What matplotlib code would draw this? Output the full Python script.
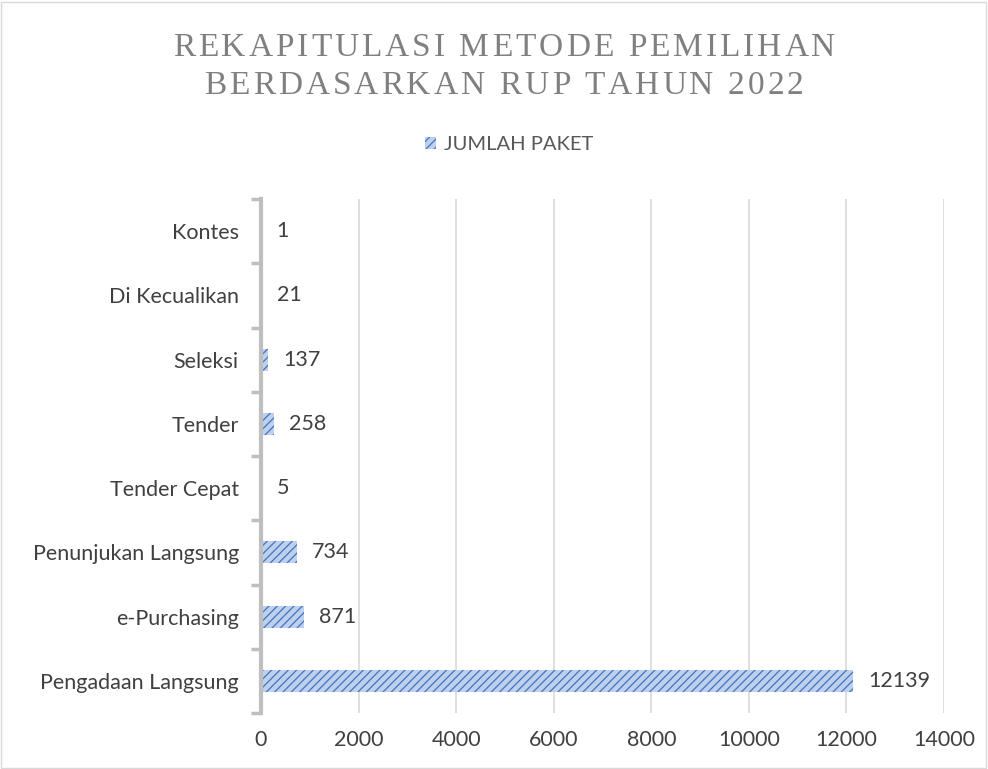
import matplotlib
matplotlib.use("Agg")
import matplotlib.pyplot as plt
from matplotlib.patches import Rectangle

categories = ["Pengadaan Langsung", "e-Purchasing", "Penunjukan Langsung", "Tender Cepat",
              "Tender", "Seleksi", "Di Kecualikan", "Kontes"]
values = [12139, 871, 734, 5, 258, 137, 21, 1]
xticks = [0, 2000, 4000, 6000, 8000, 10000, 12000, 14000]
series_name = "JUMLAH PAKET"
title_lines = ["REKAPITULASI METODE PEMILIHAN", "BERDASARKAN RUP TAHUN 2022"]

plt.rcParams['hatch.linewidth'] = 0.9
fig = plt.figure(figsize=(9.88, 7.69), dpi=100)
ax = fig.add_axes([0.2642, 0.0728, 0.6913, 0.6684])

y = list(range(len(categories)))
bars = ax.barh(y, values, height=0.34, color="#BDD0EC", edgecolor="#4472C4",
               linewidth=0, hatch="////", label=series_name)

ax.set_xlim(0, 14000)
ax.set_ylim(-0.5, len(categories) - 0.5)
ax.set_xticks(xticks)
ax.set_xticklabels([str(t) for t in xticks])
ax.set_yticks(y)
ax.set_yticklabels(categories)
ax.set_yticks([i - 0.5 for i in range(len(categories) + 1)], minor=True)

font = "Lato"
for lab in ax.get_xticklabels() + ax.get_yticklabels():
    lab.set_fontfamily(font)
    lab.set_fontsize(15.5)
    lab.set_color("#404040")

ax.tick_params(axis="x", length=0, pad=12)
ax.tick_params(axis="y", which="major", length=0, pad=16)
ax.tick_params(axis="y", which="minor", length=7, width=2.5, color="#BFBFBF", direction="out")

ax.xaxis.grid(True, color="#D9D9D9", linewidth=1.2)
ax.set_axisbelow(True)
for s in ["top", "right", "bottom"]:
    ax.spines[s].set_visible(False)
ax.spines["left"].set_color("#BFBFBF")
ax.spines["left"].set_linewidth(3)

for yi, v in zip(y, values):
    ax.annotate(str(v), (v, yi), xytext=(11, 0), textcoords="offset points",
                va="center", ha="left", fontsize=15.5, fontfamily=font, color="#404040")

# Letter-spaced title, drawn character by character
fig.canvas.draw()
renderer = fig.canvas.get_renderer()
tprops = dict(fontsize=24, fontfamily="Liberation Serif", color="#808080")
W, H = fig.get_size_inches() * fig.dpi
spacing = 3.0  # px between letters
def char_width(c):
    if c == " ":
        t1 = fig.text(0, 0, "a a", **tprops); t2 = fig.text(0, 0, "aa", **tprops)
        w = t1.get_window_extent(renderer).width - t2.get_window_extent(renderer).width
        t1.remove(); t2.remove()
        return w
    t = fig.text(0, 0, c, **tprops)
    w = t.get_window_extent(renderer).width
    t.remove()
    return w
for line, ypix in zip(title_lines, [48, 86]):
    widths = [char_width(c) for c in line]
    total = sum(widths) + spacing * (len(line) - 1)
    x = 504 - total / 2
    for c, w in zip(line, widths):
        if c != " ":
            fig.text(x / W, 1 - ypix / H, c, ha="left", va="center", **tprops)
        x += w + spacing

leg = fig.legend(loc="center", bbox_to_anchor=(0.515, 0.812), frameon=False,
                 prop={"family": font, "size": 14.5}, handlelength=0.55, handleheight=0.55,
                 handletextpad=0.4)
for t in leg.get_texts():
    t.set_color("#595959")

fig.patches.append(Rectangle((0.001, 0.001), 0.997, 0.997, transform=fig.transFigure,
                             fill=False, edgecolor="#D9D9D9", linewidth=1))

fig.savefig("out.png", dpi=100)
